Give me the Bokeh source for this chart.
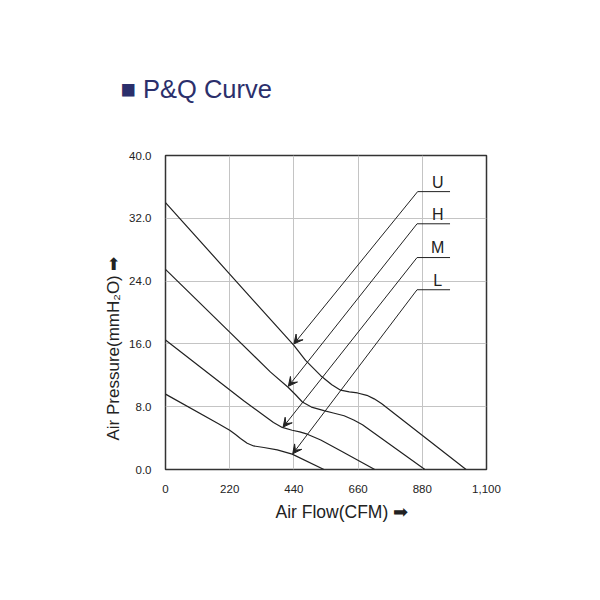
import math
from bokeh.plotting import figure
from bokeh.models import (Label, Arrow, VeeHead, NumeralTickFormatter,
                          FixedTicker, Range1d, Title)
from bokeh.embed import file_html
from bokeh.resources import INLINE

# ---- data ----
U_x = [0, 220, 440, 480, 532, 570, 600, 630, 658, 690, 715, 740, 1030]
U_y = [34.0, 24.9, 15.8, 13.9, 11.95, 10.8, 10.1, 9.9, 9.75, 9.45, 9.0, 8.4, 0.0]

H_x = [0, 220, 360, 421, 445, 469, 500, 543, 575, 612, 645, 675, 889]
H_y = [25.5, 17.5, 12.4, 10.45, 9.55, 8.6, 7.95, 7.5, 7.2, 6.85, 6.3, 5.7, 0.0]

M_x = [0, 268, 370, 400, 434, 460, 486, 532, 600, 717]
M_y = [16.5, 8.76, 6.0, 5.36, 5.0, 4.8, 4.5, 3.75, 2.4, 0.0]

L_x = [0, 180, 220, 240, 257, 280, 302, 337, 383, 434, 543]
L_y = [9.6, 5.85, 5.0, 4.45, 3.95, 3.35, 3.0, 2.8, 2.5, 1.96, 0.0]

series_names = ["U", "H", "M", "L"]
tip_x = [440, 421, 403, 436]
tip_y = [16.0, 10.6, 5.4, 2.0]
elbow_x = [864, 862, 862, 862]
elbow_y = [35.4, 31.3, 27.0, 22.9]
tail_x = [975, 975, 975, 975]
name_x = [933, 933, 933, 933]
name_y = [36.6, 32.5, 28.3, 24.1]

x_ticks = [0, 220, 440, 660, 880, 1100]
y_ticks = [0, 8, 16, 24, 32, 40]

FONT = "Liberation Sans"
INK = "#222222"
NAVY = "#2b2f6b"

p = figure(width=600, height=600, output_backend="svg", toolbar_location=None,
           x_range=Range1d(0, 1100), y_range=Range1d(0, 40),
           min_border_left=165, min_border_right=114,
           min_border_top=155, min_border_bottom=131)
p.background_fill_color = "white"
p.border_fill_color = "white"
p.outline_line_color = "#333333"
p.outline_line_width = 1.5

p.title.text = "\u25a0 P&Q Curve"
p.title.text_font = FONT
p.title.text_font_size = "25.5px"
p.title.text_font_style = "normal"
p.title.text_color = NAVY
p.title.align = "left"
p.title.offset = -45
p.title.standoff = 105

for ax in (p.xaxis[0], p.yaxis[0]):
    ax.axis_line_color = None
    ax.major_tick_line_color = None
    ax.minor_tick_line_color = None
    ax.major_label_text_font = FONT
    ax.major_label_text_font_size = "11.5px"
    ax.major_label_text_color = INK

p.xaxis.ticker = FixedTicker(ticks=x_ticks)
p.yaxis.ticker = FixedTicker(ticks=y_ticks)
p.xaxis.formatter = NumeralTickFormatter(format="0,0")
p.yaxis.formatter = NumeralTickFormatter(format="0.0")
p.xaxis.major_label_standoff = 9
p.yaxis.major_label_standoff = 8

p.xgrid.ticker = FixedTicker(ticks=x_ticks)
p.ygrid.ticker = FixedTicker(ticks=y_ticks)
p.grid.grid_line_color = "#c4c4c4"
p.grid.grid_line_width = 1

for xs, ys in ((U_x, U_y), (H_x, H_y), (M_x, M_y), (L_x, L_y)):
    p.line(xs, ys, line_color=INK, line_width=1.2, line_join="round")

# leader lines with arrows
p.segment(x0=elbow_x, y0=elbow_y, x1=tail_x, y1=elbow_y, line_color=INK, line_width=1)
for i in range(len(series_names)):
    p.add_layout(Arrow(end=VeeHead(size=9, fill_color=INK, line_color=INK, line_width=1),
                       x_start=elbow_x[i], y_start=elbow_y[i],
                       x_end=tip_x[i], y_end=tip_y[i],
                       line_color=INK, line_width=1))
    p.add_layout(Label(x=name_x[i], y=name_y[i], text=series_names[i],
                       text_font=FONT, text_font_size="16px", text_color=INK,
                       text_align="center", text_baseline="middle"))

# axis labels as titles in the side panels (arrow drawn as a glyph of the text)
xl = Title(text="Air Flow(CFM)  \u27a1", text_font=FONT, text_font_size="17.5px",
           text_font_style="normal", text_color=INK, align="left", offset=110, standoff=8)
p.add_layout(xl, "below")
yl = Title(text="Air Pressure(mmH\u2082O)  \u27a1", text_font=FONT, text_font_size="17px",
           text_font_style="normal", text_color=INK, align="left", offset=29, standoff=8)
p.add_layout(yl, "left")

open("out.html", "w").write(file_html(p, INLINE))
